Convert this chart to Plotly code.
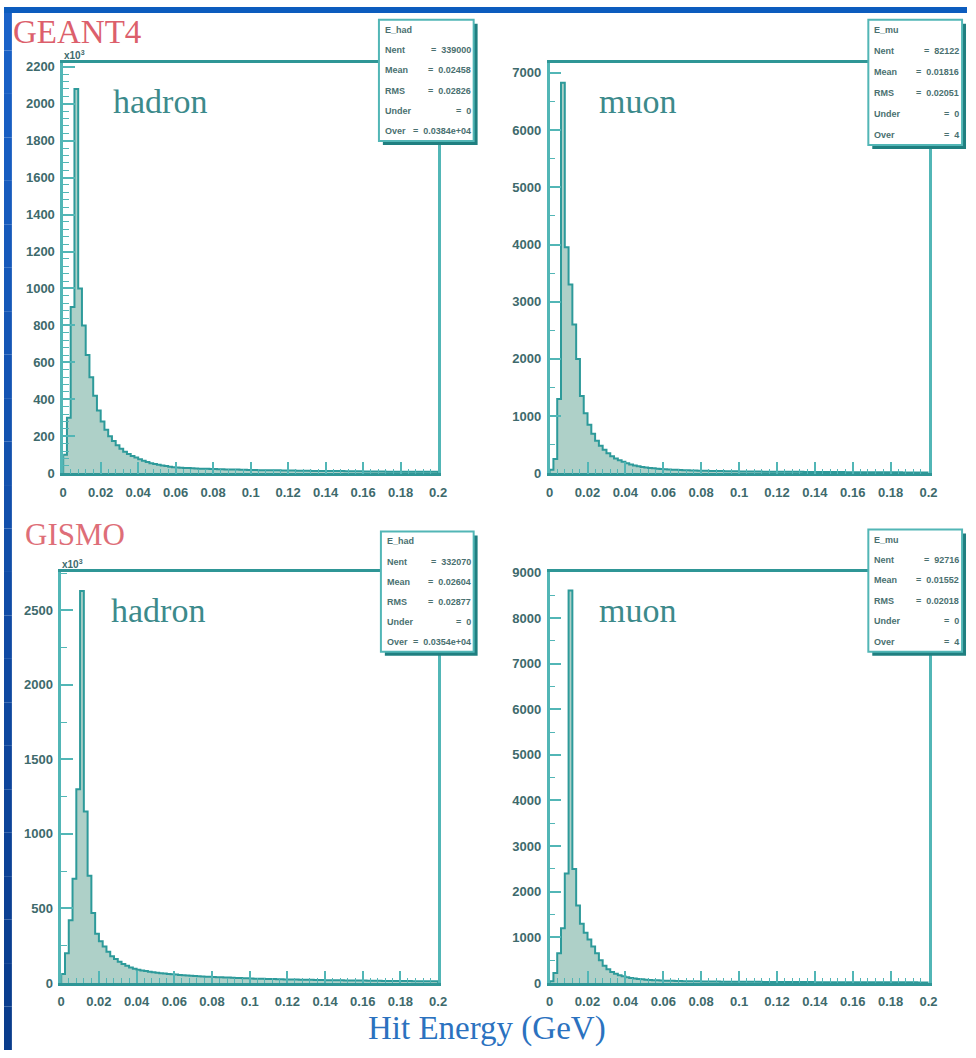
import numpy as np
import plotly.graph_objects as go

# ---------------------------------------------------------------------------
# Hit-energy spectra, 100 bins of 0.002 GeV from 0 to 0.2 GeV
# ---------------------------------------------------------------------------
BIN_WIDTH = 0.002
N_BINS = 100

geant4_hadron = [
    100, 300, 900, 2080, 1000, 800, 640, 520, 420, 340,
    280, 235, 200, 175, 152, 133, 117, 104, 94, 85,
    76, 68, 61, 55, 50, 46, 42, 39, 36, 33,
    31, 30, 29, 28, 27, 26, 25, 25, 24, 23,
    23, 22, 22, 21, 21, 20, 20, 19, 19, 18,
    18, 18, 17, 17, 17, 16, 16, 16, 15, 15,
    15, 15, 14, 14, 14, 14, 13, 13, 13, 13,
    12, 12, 12, 12, 12, 11, 11, 11, 11, 11,
    10, 10, 10, 10, 10, 10, 9, 9, 9, 9,
    9, 9, 9, 8, 8, 8, 8, 8, 8, 8,
]

geant4_muon = [
    60, 250, 1300, 6830, 3950, 3300, 2600, 2000, 1350, 1050,
    850, 690, 570, 480, 410, 350, 300, 260, 230, 200,
    175, 155, 138, 124, 112, 102, 94, 87, 81, 76,
    71, 67, 63, 60, 57, 54, 52, 50, 48, 46,
    44, 43, 42, 40, 39, 38, 37, 36, 35, 34,
    33, 33, 32, 31, 31, 30, 29, 29, 28, 28,
    27, 27, 26, 26, 25, 25, 25, 24, 24, 23,
    23, 23, 22, 22, 22, 21, 21, 21, 20, 20,
    20, 19, 19, 19, 19, 18, 18, 18, 18, 17,
    17, 17, 17, 16, 16, 16, 16, 16, 15, 15,
]

gismo_hadron = [
    60, 200, 420, 700, 1300, 2630, 1150, 720, 470, 330,
    280, 245, 210, 180, 160, 143, 128, 115, 104, 96,
    89, 84, 80, 76, 72, 69, 66, 63, 60, 58,
    56, 54, 52, 50, 48, 46, 45, 43, 42, 41,
    40, 39, 38, 37, 36, 35, 34, 33, 32, 31,
    30, 29, 29, 28, 27, 27, 26, 25, 25, 24,
    24, 23, 23, 22, 22, 21, 21, 20, 20, 20,
    19, 19, 18, 18, 18, 17, 17, 17, 16, 16,
    16, 15, 15, 15, 15, 14, 14, 14, 14, 13,
    13, 13, 13, 12, 12, 12, 12, 12, 11, 11,
]

gismo_muon = [
    40, 220, 650, 1200, 2400, 8600, 2500, 1700, 1300, 1100,
    950, 800, 650, 500, 380, 300, 240, 200, 170, 145,
    125, 110, 98, 88, 80, 73, 67, 62, 58, 54,
    51, 48, 46, 44, 42, 40, 39, 37, 36, 35,
    34, 33, 32, 31, 30, 29, 29, 28, 27, 27,
    26, 26, 25, 25, 24, 24, 23, 23, 22, 22,
    22, 21, 21, 21, 20, 20, 20, 19, 19, 19,
    18, 18, 18, 18, 17, 17, 17, 17, 16, 16,
    16, 16, 15, 15, 15, 15, 15, 14, 14, 14,
    14, 14, 13, 13, 13, 13, 13, 12, 12, 12,
]

# Axis ticks
x_tickvals = [0, 0.02, 0.04, 0.06, 0.08, 0.1, 0.12, 0.14, 0.16, 0.18, 0.2]
x_ticktext = ["0", "0.02", "0.04", "0.06", "0.08", "0.1", "0.12", "0.14", "0.16", "0.18", "0.2"]

geant4_hadron_yticks = [0, 200, 400, 600, 800, 1000, 1200, 1400, 1600, 1800, 2000, 2200]
geant4_muon_yticks = [0, 1000, 2000, 3000, 4000, 5000, 6000, 7000]
gismo_hadron_yticks = [0, 500, 1000, 1500, 2000, 2500]
gismo_muon_yticks = [0, 1000, 2000, 3000, 4000, 5000, 6000, 7000, 8000, 9000]

# Statistics boxes
geant4_hadron_stats = [("E_had", ""), ("Nent", "339000"), ("Mean", "0.02458"),
                       ("RMS", "0.02826"), ("Under", "0"), ("Over", "0.0384e+04")]
geant4_muon_stats = [("E_mu", ""), ("Nent", "82122"), ("Mean", "0.01816"),
                     ("RMS", "0.02051"), ("Under", "0"), ("Over", "4")]
gismo_hadron_stats = [("E_had", ""), ("Nent", "332070"), ("Mean", "0.02604"),
                      ("RMS", "0.02877"), ("Under", "0"), ("Over", "0.0354e+04")]
gismo_muon_stats = [("E_mu", ""), ("Nent", "92716"), ("Mean", "0.01552"),
                    ("RMS", "0.02018"), ("Under", "0"), ("Over", "4")]

# ---------------------------------------------------------------------------
W, H = 976, 1058


def fx(px):
    return px / W


def fy(py):
    return 1 - py / H


FRAME = "#52b6b6"
AXIS = "#2f9696"
HIST_LINE = "#2d9a9a"
HIST_FILL = "rgba(170,206,197,0.95)"
TICK_FONT = dict(family="Liberation Sans", size=13, color="#3e6a6c", weight="bold")
STAT_FONT = dict(family="Liberation Sans", size=9, color="#4a7070", weight="bold")
SERIF = "Liberation Serif"

panels = [
    dict(vals=geant4_hadron, yticks=geant4_hadron_yticks, ymax=2219, yminor=40,
         box=(60, 440, 57, 473), label="hadron", stats=geant4_hadron_stats,
         sbox=(380, 476, 13, 136), exp=True),
    dict(vals=geant4_muon, yticks=geant4_muon_yticks, ymax=7170, yminor=500,
         box=(553, 937, 57, 473), label="muon", stats=geant4_muon_stats,
         sbox=(876, 971, 13, 140), exp=False),
    dict(vals=gismo_hadron, yticks=gismo_hadron_yticks, ymax=2758, yminor=250,
         box=(58, 440, 573, 990), label="hadron", stats=gismo_hadron_stats,
         sbox=(382, 476, 532, 654), exp=True),
    dict(vals=gismo_muon, yticks=gismo_muon_yticks, ymax=9010, yminor=500,
         box=(553, 937, 573, 990), label="muon", stats=gismo_muon_stats,
         sbox=(876, 971, 530, 654), exp=False),
]

fig = go.Figure()
shapes = []
annotations = []

edges = np.arange(N_BINS + 1) * BIN_WIDTH

for i, p in enumerate(panels, start=1):
    xa = "x" if i == 1 else f"x{i}"
    ya = "y" if i == 1 else f"y{i}"
    vals = list(p["vals"])
    # step outline: rise from the axis, follow the bins, drop back to the axis
    xs = [edges[0]] + list(edges) + [edges[-1]]
    ys = [0] + vals + [vals[-1], 0]
    fig.add_trace(go.Scatter(
        x=xs, y=ys, mode="lines", line=dict(color=HIST_LINE, width=2, shape="hv"),
        fill="tozeroy", fillcolor=HIST_FILL, xaxis=xa, yaxis=ya,
        hoverinfo="skip", showlegend=False))

    l, r, t, b = p["box"]
    xkey = "xaxis" if i == 1 else f"xaxis{i}"
    ykey = "yaxis" if i == 1 else f"yaxis{i}"
    fig.layout[xkey] = dict(
        domain=[fx(l), fx(r)], range=[0, 0.2], anchor=ya,
        showline=True, linecolor=AXIS, linewidth=2.5, mirror=True,
        showgrid=False, zeroline=False,
        tickvals=x_tickvals, ticktext=x_ticktext,
        ticks="inside", ticklen=12, tickwidth=1.5, tickcolor=FRAME,
        minor=dict(ticks="inside", ticklen=5, dtick=0.004, tickcolor=FRAME, tickwidth=1),
        tickfont=TICK_FONT, ticklabelstandoff=5,
    )
    fig.layout[ykey] = dict(
        domain=[fy(b), fy(t)], range=[0, p["ymax"]], anchor=xa,
        showline=True, linecolor=FRAME, linewidth=2.5, mirror=True,
        showgrid=False, zeroline=False,
        tickvals=p["yticks"], ticktext=[str(v) for v in p["yticks"]],
        ticks="inside", ticklen=12, tickwidth=1.5, tickcolor=FRAME,
        minor=dict(ticks="inside", ticklen=6, dtick=p["yminor"], tickcolor=FRAME, tickwidth=1),
        tickfont=TICK_FONT, ticklabelstandoff=3,
    )

    # panel label
    annotations.append(dict(
        x=fx(l + 48), y=fy(t + 39), xref="paper", yref="paper",
        xanchor="left", yanchor="middle", showarrow=False,
        text=p["label"], font=dict(family=SERIF, size=34, color="#3c8a8b")))

    if p["exp"]:
        annotations.append(dict(
            x=fx(l - 1), y=fy(t - 8), xref="paper", yref="paper",
            xanchor="left", yanchor="middle", showarrow=False,
            text="x10<sup>3</sup>", font=dict(family="Liberation Sans", size=10,
                                              color="#3e6a6c", weight="bold")))

    # statistics box with drop shadow
    sl, sr, st, sb = p["sbox"]
    shapes.append(dict(type="rect", xref="paper", yref="paper", layer="above",
                       x0=fx(sl + 4), x1=fx(sr + 4), y0=fy(sb + 4), y1=fy(st + 4),
                       fillcolor="#1f7f80", line=dict(width=0)))
    shapes.append(dict(type="rect", xref="paper", yref="paper", layer="above",
                       x0=fx(sl), x1=fx(sr), y0=fy(sb), y1=fy(st),
                       fillcolor="white", line=dict(color=FRAME, width=2)))
    step = (sb - st) / len(p["stats"])
    for k, (key, val) in enumerate(p["stats"]):
        yy = fy(st + step * (k + 0.5))
        annotations.append(dict(
            x=fx(sl + 4), y=yy, xref="paper", yref="paper", xanchor="left",
            yanchor="middle", showarrow=False, text=key, font=STAT_FONT))
        if val:
            annotations.append(dict(
                x=fx(sr - 1), y=yy, xref="paper", yref="paper", xanchor="right",
                yanchor="middle", showarrow=False, text="=  " + val, font=STAT_FONT))

# page: white sheet with a blue border on the left and top
BLUE_TOP = (26, 98, 200)
BLUE_BOT = (10, 60, 140)
n_seg = 24
for k in range(n_seg):
    f = k / (n_seg - 1)
    c = tuple(int(BLUE_TOP[j] + (BLUE_BOT[j] - BLUE_TOP[j]) * f) for j in range(3))
    shapes.append(dict(type="rect", xref="paper", yref="paper", layer="below",
                       x0=0, x1=fx(8), y0=1 - (k + 1) / n_seg, y1=1 - k / n_seg,
                       fillcolor=f"rgb{c}", line=dict(width=0)))
shapes.append(dict(type="rect", xref="paper", yref="paper", layer="below",
                   x0=0, x1=1, y0=fy(6), y1=1, fillcolor="rgb(12,92,190)",
                   line=dict(width=0)))

# group titles and common axis title
annotations.append(dict(x=fx(7), y=fy(25), xref="paper", yref="paper",
                        xanchor="left", yanchor="middle", showarrow=False,
                        text="GEANT4", font=dict(family=SERIF, size=33, color="#dc5f6c")))
annotations.append(dict(x=fx(19), y=fy(535), xref="paper", yref="paper",
                        xanchor="left", yanchor="middle", showarrow=False,
                        text="GISMO", font=dict(family=SERIF, size=31, color="#de6e78")))
annotations.append(dict(x=fx(490), y=fy(1036), xref="paper", yref="paper",
                        xanchor="center", yanchor="middle", showarrow=False,
                        text="Hit Energy (GeV)",
                        font=dict(family=SERIF, size=33, color="#2b72bf")))

fig.update_layout(
    width=W, height=H, margin=dict(l=0, r=0, t=0, b=0),
    paper_bgcolor="white", plot_bgcolor="white",
    showlegend=False, shapes=shapes, annotations=annotations,
)

fig.write_html("out.html")
